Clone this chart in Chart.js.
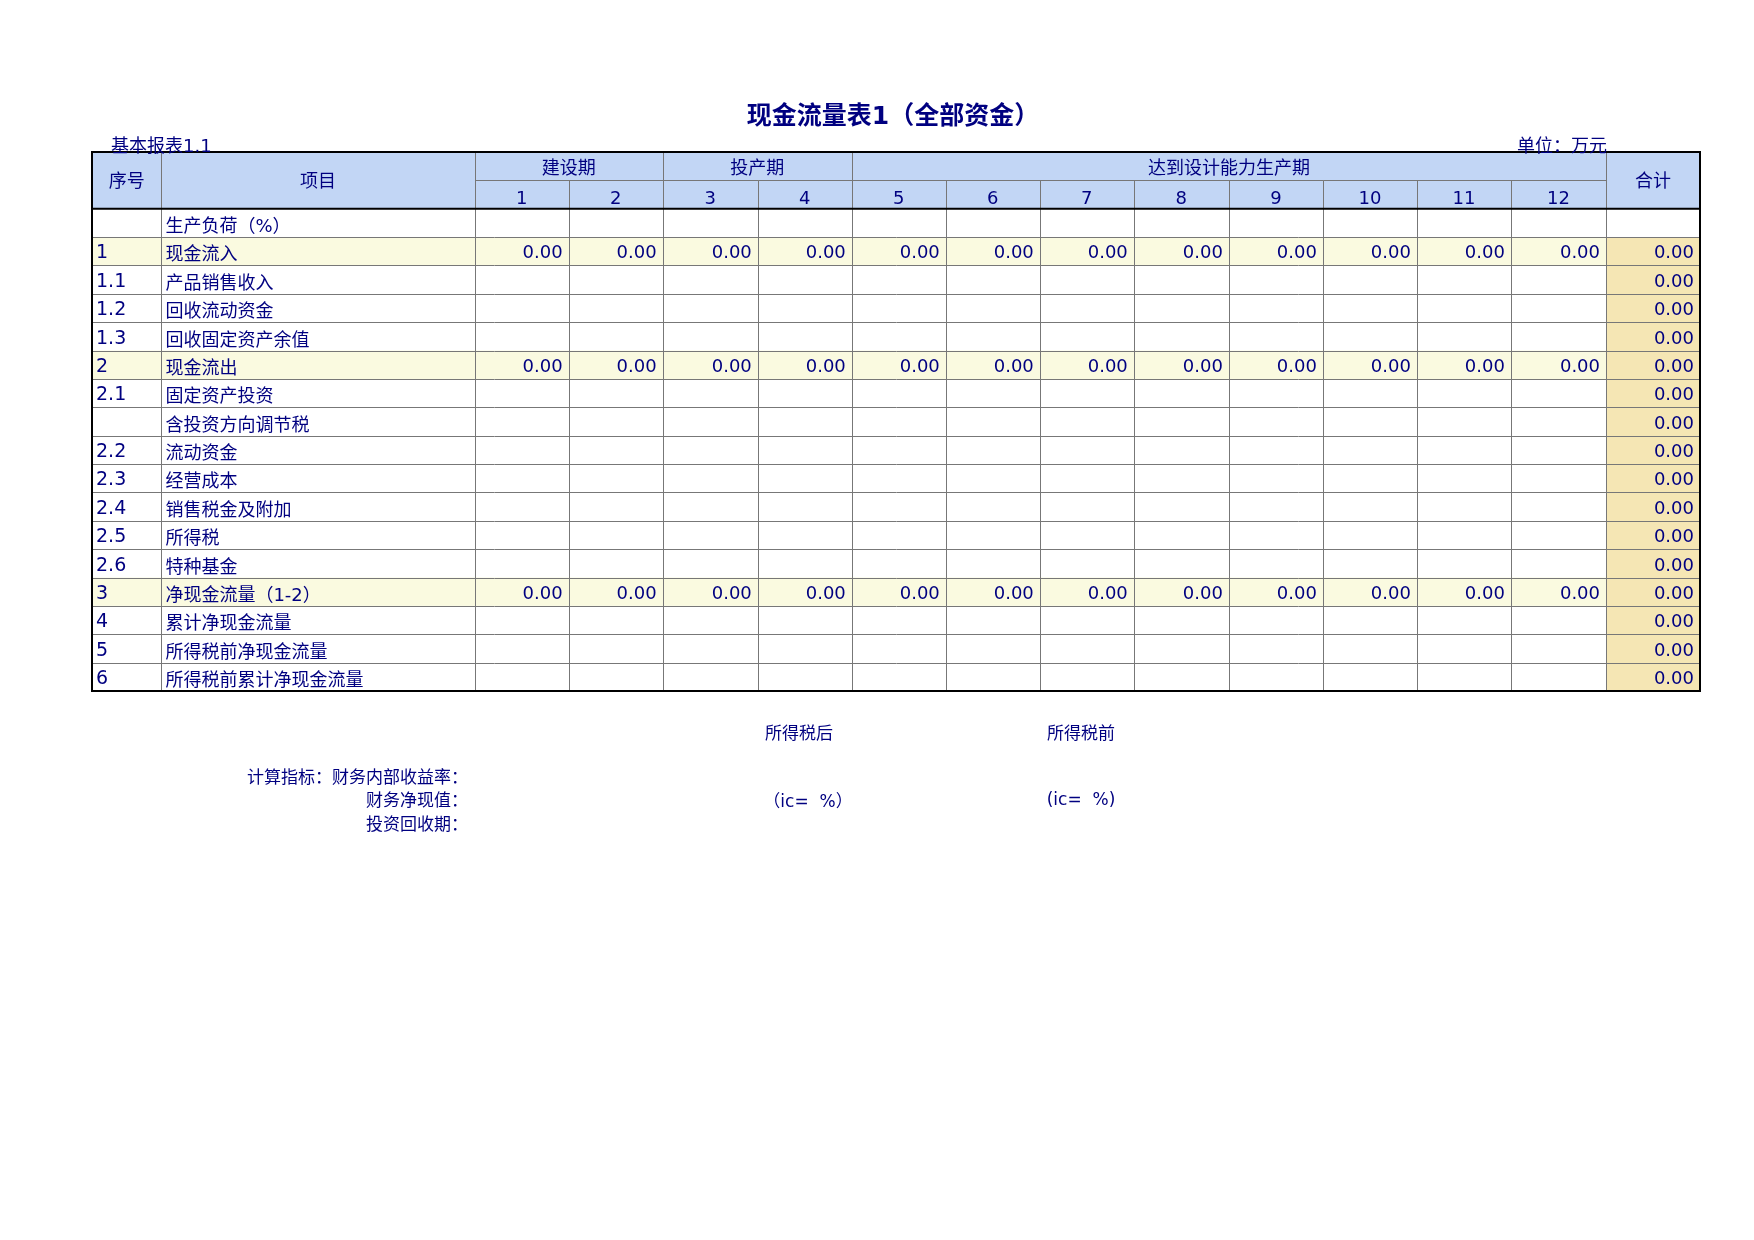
<!DOCTYPE html>
<html>
<head>
<meta charset="utf-8">
<script src="https://cdn.jsdelivr.net/npm/chart.js@4"></script>
<style>
  body { margin: 0; background: #fff; }
  #wrap { width: 1754px; height: 1240px; }
</style>
</head>
<body>
<div id="wrap"><canvas id="myChart"></canvas></div>
<script>
// table data
const seqNos = ["", "1", "1.1", "1.2", "1.3", "2", "2.1", "", "2.2", "2.3", "2.4", "2.5", "2.6", "3", "4", "5", "6"];
const items = ["生产负荷（%）", "现金流入", "产品销售收入", "回收流动资金", "回收固定资产余值", "现金流出",
  "固定资产投资", "含投资方向调节税", "流动资金", "经营成本", "销售税金及附加", "所得税", "特种基金",
  "净现金流量（1-2）", "累计净现金流量", "所得税前净现金流量", "所得税前累计净现金流量"];
const years = ["1", "2", "3", "4", "5", "6", "7", "8", "9", "10", "11", "12"];
const phases = ["建设期", "投产期", "达到设计能力生产期"];
const phaseSpans = [2, 2, 8];
// yearly values per row (null = empty cell)
const flowIn = [0, 0, 0, 0, 0, 0, 0, 0, 0, 0, 0, 0];
const flowOut = [0, 0, 0, 0, 0, 0, 0, 0, 0, 0, 0, 0];
const netFlow = [0, 0, 0, 0, 0, 0, 0, 0, 0, 0, 0, 0];
const totals = [null, 0, 0, 0, 0, 0, 0, 0, 0, 0, 0, 0, 0, 0, 0, 0, 0];
const highlightRows = [1, 5, 13];

// column edges in x-scale units
const colEdges = [0, 62, 342, 426, 510, 595, 679, 763, 847, 931, 1016, 1100, 1184, 1268, 1353, 1437];

const rowValues = items.map(function (_, i) {
  if (i === 1) return flowIn;
  if (i === 5) return flowOut;
  if (i === 13) return netFlow;
  return null;
});

const NAVY = "#000080";
const HEAD = "#c2d6f5";
const YEL = "#fafae0";
const TOT = "#f5e6b4";
const FONT = "'DejaVu Sans', 'Noto Sans CJK SC', sans-serif";

const tablePlugin = {
  id: "table",
  afterDraw(chart) {
    const c = chart.ctx, x = chart.scales.x, y = chart.scales.y;
    const X = function (v) { return x.getPixelForValue(v); };
    const Y = function (v) { return y.getPixelForValue(v); };
    const nRows = items.length;
    c.save();
    function fill(x0, y0, x1, y1, col) { c.fillStyle = col; c.fillRect(X(x0), Y(y0), X(x1) - X(x0), Y(y1) - Y(y0)); }
    function text(s, px, py, align, size, bold) {
      c.font = (bold ? "bold " : "") + size + "px " + FONT;
      c.textAlign = align; c.fillStyle = NAVY; c.textBaseline = "alphabetic";
      c.fillText(s, px, py);
    }
    // backgrounds
    fill(0, 0, 1437, 2, HEAD);
    highlightRows.forEach(function (r) { fill(0, r + 2, 1437, r + 3, YEL); });
    fill(1353, 3, 1437, nRows + 2, TOT);
    // grid
    c.strokeStyle = "#777"; c.lineWidth = 1;
    function line(x0, y0, x1, y1) { c.beginPath(); c.moveTo(Math.round(X(x0)) + 0.5, Math.round(Y(y0)) + 0.5); c.lineTo(Math.round(X(x1)) + 0.5, Math.round(Y(y1)) + 0.5); c.stroke(); }
    for (let r = 3; r < nRows + 2; r++) line(0, r, 1437, r);
    colEdges.slice(1, -1).forEach(function (e, i) {
      const k = i + 1;
      const top = (k >= 3 && k <= 13 && [4, 6].indexOf(k) === -1) ? 1 : 0;
      line(e, top, e, nRows + 2);
    });
    line(colEdges[2], 1, colEdges[14], 1);
    c.strokeStyle = "#000"; c.lineWidth = 2;
    c.strokeRect(X(0), Y(0), X(1437) - X(0), Y(nRows + 2) - Y(0));
    c.beginPath(); c.moveTo(X(0), Y(2)); c.lineTo(X(1437), Y(2)); c.stroke();
    // header text
    const rh = Y(1) - Y(0);
    text("序号", (X(0) + X(62)) / 2, Y(1) + 7, "center", 18);
    text("项目", (X(62) + X(342)) / 2, Y(1) + 7, "center", 18);
    text("合计", (X(1353) + X(1437)) / 2, Y(1) + 7, "center", 18);
    let ci = 2;
    phases.forEach(function (p, i) {
      const a = colEdges[ci], b = colEdges[ci + phaseSpans[i]];
      text(p, (X(a) + X(b)) / 2, Y(1) - 6, "center", 18);
      ci += phaseSpans[i];
    });
    years.forEach(function (yr, i) {
      text(yr, (X(colEdges[i + 2]) + X(colEdges[i + 3])) / 2, Y(2) - 5, "center", 18);
    });
    // body
    items.forEach(function (it, r) {
      const by = Y(r + 3) - 5;
      text(seqNos[r], X(0) + 4, by - 2, "left", 19);
      text(it, X(62) + 4, by, "left", 18);
      const vals = rowValues[r];
      if (vals) vals.forEach(function (v, i) {
        if (v !== null) text(v.toFixed(2), X(colEdges[i + 3]) - 6, by - 2, "right", 18);
      });
      if (totals[r] !== null) text(totals[r].toFixed(2), X(1437) - 6, by - 2, "right", 18);
    });
    // texts around table
    text("现金流量表1（全部资金）", 893, 124, "center", 25, true);
    text("基本报表1.1", 111, 152, "left", 18);
    text("单位：万元", 1607, 152, "right", 18);
    text("所得税后", 799, 739, "center", 17);
    text("所得税前", 1081, 739, "center", 17);
    text("计算指标：财务内部收益率：", 468, 783, "right", 17);
    text("财务净现值：", 468, 806, "right", 17);
    text("投资回收期：", 468, 830, "right", 17);
    text("（ic=  %）", 808, 807, "center", 17);
    text("(ic=  %)", 1081, 805, "center", 17);
    c.restore();
  }
};

document.addEventListener("DOMContentLoaded", function () {
  const ctx = document.getElementById("myChart");
  new Chart(ctx, {
    type: "scatter",
    data: { datasets: [{ data: [], pointRadius: 0 }] },
    options: {
      responsive: true,
      maintainAspectRatio: false,
      animation: false,
      layout: { padding: { left: 92, right: 54, top: 152, bottom: 549 } },
      plugins: { legend: { display: false }, tooltip: { enabled: false } },
      scales: {
        x: { type: "linear", min: 0, max: 1437, display: false },
        y: { type: "linear", min: 0, max: items.length + 2, reverse: true, display: false },
      },
    },
    plugins: [tablePlugin],
  });
});
</script>
</body>
</html>
